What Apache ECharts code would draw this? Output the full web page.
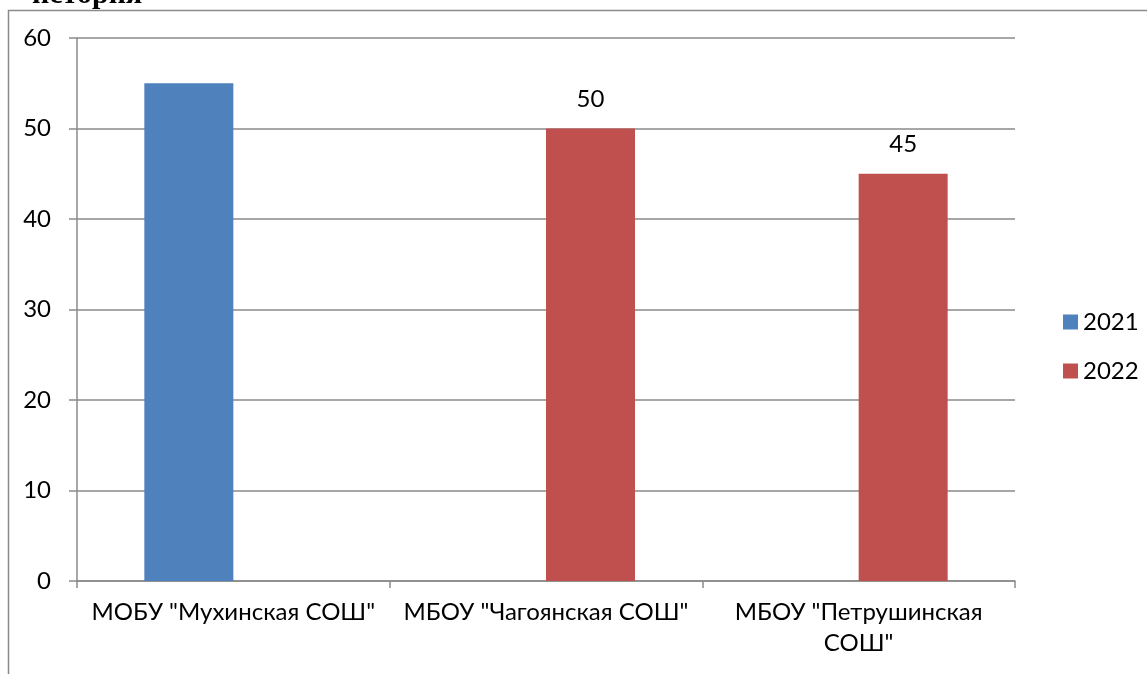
<!DOCTYPE html>
<html>
<head>
<meta charset="utf-8">
<script src="https://cdn.jsdelivr.net/npm/echarts@6/dist/echarts.min.js"></script>
<style>
html,body{margin:0;padding:0;background:#fff;overflow:hidden;}
#c{width:1147px;height:674px;}
</style>
</head>
<body>
<div id="c"></div>
<script>
const titleText = 'история';
const categories = ['МОБУ "Мухинская СОШ"', 'МБОУ "Чагоянская СОШ"', 'МБОУ "Петрушинская СОШ"'];
const seriesNames = ['2021', '2022'];
const values2021 = [55, null, null];
const values2022 = [null, 50, 45];
const yTicks = [0, 10, 20, 30, 40, 50, 60];

const FONT = 'Lato';
const chart = echarts.init(document.getElementById('c'));
chart.setOption({
  animation: false,
  backgroundColor: '#fff',
  title: {
    text: titleText,
    left: 27,
    top: -25,
    textStyle: { fontFamily: 'Liberation Serif', fontWeight: 'bold', fontSize: 30, color: '#000' }
  },
  graphic: [{
    type: 'rect',
    shape: { x: 8.5, y: 10.5, width: 2000, height: 2000 },
    style: { fill: 'none', stroke: '#8a8a8a', lineWidth: 1.5 },
    silent: true
  }],
  legend: {
    orient: 'vertical',
    left: 1058,
    top: 305,
    itemWidth: 15,
    itemHeight: 15,
    itemGap: 25,
    icon: 'rect',
    data: seriesNames,
    textStyle: { fontFamily: FONT, fontSize: 24, color: '#000' }
  },
  grid: { left: 77, right: 132, top: 38, bottom: 93, containLabel: false, outerBoundsMode: 'none' },
  xAxis: {
    type: 'category',
    data: categories,
    boundaryGap: true,
    axisLine: { lineStyle: { color: '#8a8a8a', width: 1.5 } },
    axisTick: { show: true, length: 7, lineStyle: { color: '#8a8a8a', width: 1.5 } },
    axisLabel: {
      interval: 0,
      margin: 16,
      lineHeight: 31,
      fontFamily: FONT,
      fontSize: 24,
      color: '#000',
      formatter: function (v) {
        if (v.length > 22) {
          const i = v.lastIndexOf(' ');
          return v.slice(0, i) + '\n' + v.slice(i + 1);
        }
        return v;
      }
    }
  },
  yAxis: {
    type: 'value',
    min: yTicks[0],
    max: yTicks[yTicks.length - 1],
    interval: 10,
    axisLine: { show: true, lineStyle: { color: '#8a8a8a', width: 1.5 } },
    axisTick: { show: true, length: 8, lineStyle: { color: '#8a8a8a', width: 1.5 } },
    splitLine: { lineStyle: { color: '#8a8a8a', width: 1.5 } },
    axisLabel: { margin: 26, fontFamily: FONT, fontSize: 24, color: '#000' }
  },
  series: [
    {
      name: seriesNames[0],
      type: 'bar',
      data: values2021,
      barWidth: 89,
      barGap: '0%',
      itemStyle: { color: '#4F81BD' }
    },
    {
      name: seriesNames[1],
      type: 'bar',
      data: values2022,
      barWidth: 89,
      barGap: '0%',
      itemStyle: { color: '#C0504D' },
      label: { show: true, position: 'top', distance: 17, fontFamily: FONT, fontSize: 24, color: '#000' }
    }
  ]
});
</script>
</body>
</html>
